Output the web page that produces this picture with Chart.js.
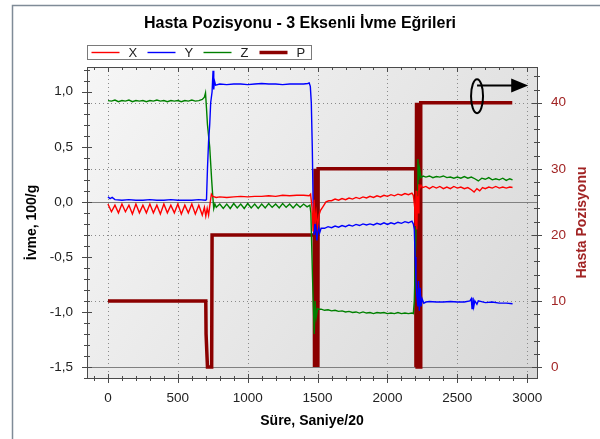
<!DOCTYPE html>
<html>
<head>
<meta charset="utf-8">
<title>Hasta Pozisyonu - 3 Eksenli İvme Eğrileri</title>
<script src="https://cdn.jsdelivr.net/npm/chart.js@4.4.1/dist/chart.umd.min.js"></script>
<style>
  html, body { margin: 0; padding: 0; background: #fff; }
  #wrap { width: 600px; height: 439px; }
</style>
</head>
<body>
<div id="wrap"><canvas id="accChart" width="600" height="439"></canvas></div>
<script>
// Tick labels
const timeTicks = [0, 500, 1000, 1500, 2000, 2500, 3000];
const accTicks = [-1.5, -1.0, -0.5, 0, 0.5, 1.0];
const posTicks = [0, 10, 20, 30, 40];

// X axis acceleration, [time, value]
const seriesX = [
  [0,-0.02],[25,-0.09],[50,-0.03],[75,-0.10],[100,-0.02],[125,-0.09],[150,-0.03],[175,-0.11],
  [200,-0.02],[225,-0.10],[250,-0.03],[275,-0.10],[300,-0.02],[325,-0.10],[350,-0.03],[375,-0.11],
  [400,-0.02],[425,-0.10],[450,-0.03],[475,-0.10],[500,-0.02],[525,-0.11],[550,-0.03],[575,-0.10],
  [600,-0.02],[625,-0.11],[650,-0.03],[675,-0.12],[690,-0.05],[700,-0.13],[710,-0.06],[720,-0.12],
  [730,-0.02],[740,0.07],[750,0.05],[775,0.04],[800,0.045],[850,0.04],[900,0.045],[950,0.05],
  [1000,0.045],[1050,0.05],[1100,0.05],[1150,0.055],[1200,0.05],[1250,0.06],[1300,0.055],[1350,0.06],
  [1400,0.06],[1440,0.055],[1450,0.07],[1460,-0.05],[1468,-0.27],[1475,0.02],[1482,-0.20],[1490,-0.10],
  [1500,-0.22],[1510,-0.12],[1520,-0.08],[1540,-0.04],[1560,0.0],[1580,0.01],[1600,0.01],[1625,0.025],
  [1650,0.015],[1675,0.03],[1700,0.02],[1725,0.035],[1750,0.025],[1775,0.04],[1800,0.03],[1825,0.045],
  [1850,0.035],[1875,0.05],[1900,0.04],[1925,0.055],[1950,0.045],[1975,0.06],[2000,0.05],[2025,0.065],
  [2050,0.055],[2075,0.07],[2100,0.06],[2125,0.075],[2150,0.065],[2175,0.08],[2185,0.06],[2195,-0.05],
  [2200,-0.22],[2205,0.10],[2210,-0.25],[2215,0.05],[2220,-0.10],[2225,0.16],[2230,0.12],[2240,0.15],
  [2250,0.13],[2275,0.14],[2300,0.12],[2325,0.14],[2350,0.125],[2375,0.14],[2400,0.12],[2425,0.135],
  [2450,0.12],[2475,0.14],[2500,0.125],[2525,0.135],[2550,0.12],[2575,0.13],[2600,0.11],[2620,0.09],
  [2640,0.12],[2660,0.10],[2680,0.13],[2700,0.12],[2725,0.135],[2750,0.125],[2775,0.14],[2800,0.125],
  [2825,0.135],[2850,0.125],[2875,0.135],[2895,0.13]
];

// Y axis acceleration
const seriesY = [
  [0,0.045],[15,0.03],[30,0.04],[50,0.02],[100,0.015],[150,0.02],[200,0.015],[250,0.015],
  [300,0.02],[350,0.015],[400,0.015],[450,0.02],[500,0.015],[550,0.015],[600,0.015],[650,0.02],
  [698,0.015],[705,0.02],[712,0.3],[720,0.55],[728,0.7],[735,0.9],[745,1.0],[752,1.19],
  [757,1.02],[762,1.1],[770,1.06],[800,1.07],[850,1.065],[900,1.07],[950,1.07],[1000,1.065],
  [1050,1.07],[1100,1.075],[1150,1.07],[1200,1.07],[1250,1.065],[1300,1.07],[1350,1.07],[1400,1.07],
  [1430,1.075],[1440,1.08],[1448,1.05],[1455,0.9],[1462,0.5],[1468,0.0],[1475,-0.3],[1485,-0.2],
  [1495,-0.35],[1505,-0.22],[1515,-0.28],[1525,-0.24],[1550,-0.24],[1575,-0.225],[1600,-0.235],[1625,-0.22],
  [1650,-0.23],[1675,-0.215],[1700,-0.225],[1725,-0.21],[1750,-0.22],[1775,-0.205],[1800,-0.215],[1825,-0.2],
  [1850,-0.21],[1875,-0.2],[1900,-0.21],[1925,-0.195],[1950,-0.205],[1975,-0.19],[2000,-0.205],[2025,-0.19],
  [2050,-0.2],[2075,-0.185],[2100,-0.195],[2125,-0.18],[2150,-0.19],[2175,-0.175],[2185,-0.2],[2192,-0.25],
  [2198,-0.5],[2204,-0.7],[2210,-0.85],[2218,-0.95],[2222,-0.72],[2228,-0.99],[2234,-0.78],[2240,-0.95],
  [2248,-0.88],[2260,-0.92],[2275,-0.91],[2300,-0.905],[2350,-0.91],[2400,-0.91],[2450,-0.905],[2500,-0.91],
  [2550,-0.91],[2590,-0.9],[2600,-0.88],[2605,-0.97],[2612,-0.87],[2618,-0.95],[2625,-0.9],[2640,-0.93],
  [2650,-0.9],[2700,-0.915],[2750,-0.91],[2800,-0.92],[2850,-0.92],[2895,-0.925]
];

// Z axis acceleration
const seriesZ = [
  [0,0.92],[25,0.915],[50,0.925],[75,0.91],[100,0.92],[125,0.915],[150,0.925],[175,0.91],
  [200,0.92],[225,0.915],[250,0.92],[275,0.91],[300,0.92],[325,0.915],[350,0.925],[375,0.915],
  [400,0.92],[425,0.91],[450,0.92],[475,0.915],[500,0.92],[525,0.91],[550,0.92],[575,0.915],
  [600,0.925],[625,0.915],[650,0.92],[675,0.93],[690,0.95],[698,0.99],[705,0.85],[712,0.7],
  [720,0.6],[728,0.5],[735,0.35],[742,0.2],[750,0.05],[757,-0.06],[765,-0.02],[775,-0.05],
  [800,-0.02],[825,-0.06],[850,-0.02],[875,-0.06],[900,-0.015],[925,-0.055],[950,-0.02],[975,-0.06],
  [1000,-0.015],[1025,-0.055],[1050,-0.02],[1075,-0.06],[1100,-0.02],[1125,-0.055],[1150,-0.015],[1175,-0.05],
  [1200,-0.02],[1225,-0.055],[1250,-0.015],[1275,-0.05],[1300,-0.02],[1325,-0.055],[1350,-0.02],[1375,-0.05],
  [1400,-0.02],[1425,-0.045],[1445,-0.03],[1452,-0.1],[1458,-0.4],[1464,-0.7],[1470,-0.95],[1476,-1.2],
  [1482,-0.9],[1490,-1.05],[1500,-0.97],[1510,-0.975],[1525,-0.975],[1550,-0.985],[1575,-0.98],[1600,-0.99],
  [1625,-0.985],[1650,-0.995],[1675,-0.99],[1700,-1.0],[1725,-0.995],[1750,-1.005],[1775,-1.0],[1800,-1.01],
  [1825,-1.0],[1850,-1.01],[1875,-1.005],[1900,-1.015],[1925,-1.005],[1950,-1.01],[1975,-1.005],[2000,-1.015],
  [2025,-1.01],[2050,-1.015],[2075,-1.005],[2100,-1.015],[2125,-1.01],[2150,-1.015],[2175,-1.01],[2185,-1.015],
  [2192,-0.9],[2198,-0.6],[2205,-0.2],[2212,0.1],[2218,0.39],[2224,0.2],[2230,0.3],[2240,0.22],
  [2255,0.235],[2275,0.225],[2300,0.235],[2325,0.22],[2350,0.23],[2375,0.225],[2400,0.235],[2425,0.22],
  [2450,0.225],[2475,0.215],[2500,0.225],[2525,0.215],[2550,0.23],[2575,0.215],[2600,0.225],[2625,0.21],
  [2650,0.19],[2675,0.215],[2700,0.205],[2725,0.22],[2750,0.2],[2775,0.21],[2800,0.2],[2825,0.215],
  [2850,0.195],[2875,0.21],[2895,0.2]
];

// Patient position (right axis)
const seriesP = [
  [0,10],[700,10],[702,5],[712,0],[742,0],[745,20],[1476,20],[1478,0],
  [1482,30],[1486,0],[1490,30],[1494,0],[1498,30],[1502,0],[1504,30],[2202,30],
  [2204,0],[2208,40],[2212,0],[2216,40],[2220,0],[2224,40],[2228,0],[2232,40],
  [2236,0],[2238,40],[2893,40]
];

// ellipse + arrow note, in data units (time, position)
const noteCenter = [2641, 41];
const noteArrowEnd = [3007, 42.6];

const toPoints = arr => arr.map(p => ({ x: p[0], y: p[1] }));
const fontFamily = "'Liberation Sans', Arial, sans-serif";
const labelRed = '#a12424';

function lineTo(ctx, x1, y1, x2, y2) {
    ctx.beginPath();
    ctx.moveTo(x1, y1);
    ctx.lineTo(x2, y2);
    ctx.stroke();
}

// background, grid, frame, ticks, note and legend
const framePlugin = {
    id: 'framePlugin',
    beforeDraw(chart) {
        const { ctx, chartArea: a } = chart;
        ctx.save();
        ctx.strokeStyle = '#7f8b97';
        ctx.lineWidth = 1.5;
        ctx.strokeRect(12.5, 5.5, chart.width, chart.height);
        const g = ctx.createLinearGradient(a.left, a.top, a.right, a.bottom);
        g.addColorStop(0, '#f6f6f6');
        g.addColorStop(1, '#d8d8d8');
        ctx.fillStyle = g;
        ctx.fillRect(a.left, a.top, a.width, a.height);
        ctx.restore();
    },
    beforeDatasetsDraw(chart) {
        const { ctx, chartArea: a, scales } = chart;
        ctx.save();
        ctx.beginPath();
        ctx.rect(a.left, a.top, a.width, a.height);
        ctx.clip();
        ctx.lineWidth = 1;
        ctx.strokeStyle = '#8a8a8a';
        ctx.setLineDash([1, 3]);
        timeTicks.forEach(t => {
            const px = Math.round(scales.x.getPixelForValue(t)) + 0.5;
            lineTo(ctx, px, a.top, px, a.bottom);
        });
        posTicks.filter(p => p !== 0).forEach(p => {
            const py = Math.round(scales.y2.getPixelForValue(p)) + 0.5;
            lineTo(ctx, a.left, py, a.right, py);
        });
        ctx.setLineDash([]);
        ctx.strokeStyle = '#808080';
        const z1 = Math.round(scales.y.getPixelForValue(0)) + 0.5;
        const z2 = Math.round(scales.y2.getPixelForValue(0)) + 0.5;
        lineTo(ctx, a.left, z1, a.right, z1);
        lineTo(ctx, a.left, z2, a.right, z2);
        ctx.restore();
    },
    afterDatasetsDraw(chart) {
        const { ctx, chartArea: a, scales } = chart;
        ctx.save();
        ctx.strokeStyle = '#4a4a4a';
        ctx.lineWidth = 1;
        ctx.strokeRect(Math.round(a.left) + 0.5, Math.round(a.top) + 0.5,
            Math.round(a.width), Math.round(a.height));

        // x ticks, bottom and top
        for (let t = -100; t <= 3000; t += 100) {
            const px = Math.round(scales.x.getPixelForValue(t)) + 0.5;
            const major = t % 500 === 0;
            lineTo(ctx, px, a.bottom - (major ? 4 : 2), px, a.bottom + (major ? 5 : 3));
            lineTo(ctx, px, a.top, px, a.top + (major ? 5 : 3));
        }
        // left ticks
        for (let i = -16; i <= 12; i++) {
            const py = Math.round(scales.y.getPixelForValue(i / 10)) + 0.5;
            const major = i % 5 === 0;
            lineTo(ctx, a.left - (major ? 5 : 3), py, a.left + (major ? 5 : 3), py);
        }
        // right ticks
        for (let p = 0; p <= 44; p += 2) {
            const py = Math.round(scales.y2.getPixelForValue(p)) + 0.5;
            const major = p % 10 === 0;
            lineTo(ctx, a.right - (major ? 5 : 3), py, a.right + (major ? 5 : 3), py);
        }

        // ellipse with arrow
        const cx = scales.x.getPixelForValue(noteCenter[0]);
        const cy = scales.y2.getPixelForValue(noteCenter[1]);
        const ex = scales.x.getPixelForValue(noteArrowEnd[0]);
        const ey = scales.y2.getPixelForValue(noteArrowEnd[1]);
        ctx.strokeStyle = '#000';
        ctx.fillStyle = '#000';
        ctx.lineWidth = 2;
        ctx.beginPath();
        ctx.ellipse(cx, cy, 6, 17, 0, 0, Math.PI * 2);
        ctx.stroke();
        lineTo(ctx, cx, ey, ex - 14, ey);
        ctx.beginPath();
        ctx.moveTo(ex, ey);
        ctx.lineTo(ex - 17, ey - 7);
        ctx.lineTo(ex - 17, ey + 7);
        ctx.closePath();
        ctx.fill();
        ctx.restore();
    },
    afterDraw(chart) {
        const { ctx, chartArea: a } = chart;
        ctx.save();
        // right axis title, reading upwards
        ctx.translate(582, (a.top + a.bottom) / 2);
        ctx.rotate(-Math.PI / 2);
        ctx.font = 'bold 14px ' + fontFamily;
        ctx.fillStyle = labelRed;
        ctx.textAlign = 'center';
        ctx.textBaseline = 'middle';
        ctx.fillText('Hasta Pozisyonu', 0, 0);
        ctx.restore();

        // legend box
        ctx.save();
        const bx = a.left + 0.5, by = 45.5, bw = 224, bh = 14;
        ctx.fillStyle = '#fff';
        ctx.fillRect(bx, by, bw, bh);
        ctx.strokeStyle = '#7a7a7a';
        ctx.lineWidth = 1;
        ctx.strokeRect(bx, by, bw, bh);
        ctx.font = '13px ' + fontFamily;
        ctx.textBaseline = 'middle';
        ctx.fillStyle = '#222';
        let x = bx + 4;
        chart.data.datasets.slice().sort((d1, d2) => d1.legendIndex - d2.legendIndex).forEach(ds => {
            ctx.strokeStyle = ds.borderColor;
            ctx.lineWidth = ds.borderWidth;
            lineTo(ctx, x, by + bh / 2, x + 28, by + bh / 2);
            ctx.fillStyle = '#222';
            ctx.fillText(ds.label, x + 37, by + bh / 2 + 0.5);
            x += 56;
        });
        ctx.restore();
    }
};

const ctx = document.getElementById('accChart').getContext('2d');
const accChart = new Chart(ctx, {
    type: 'line',
    data: {
        datasets: [
            { label: 'X', data: toPoints(seriesX), borderColor: '#ff0000', borderWidth: 1.4, yAxisID: 'y', order: 1, legendIndex: 0 },
            { label: 'Y', data: toPoints(seriesY), borderColor: '#0000ff', borderWidth: 1.4, yAxisID: 'y', order: 2, legendIndex: 1 },
            { label: 'Z', data: toPoints(seriesZ), borderColor: '#008000', borderWidth: 1.4, yAxisID: 'y', order: 3, legendIndex: 2 },
            { label: 'P', data: toPoints(seriesP), borderColor: '#8b0000', borderWidth: 3.5, yAxisID: 'y2', order: 4, legendIndex: 3 }
        ]
    },
    options: {
        responsive: false,
        animation: false,
        events: [],
        layout: { padding: 0 },
        elements: { point: { radius: 0 }, line: { tension: 0, borderJoinStyle: 'miter' } },
        plugins: {
            legend: { display: false },
            tooltip: { enabled: false },
            title: {
                display: true,
                text: 'Hasta Pozisyonu - 3 Eksenli İvme Eğrileri',
                color: '#000',
                font: { family: fontFamily, size: 16, weight: 'bold' },
                padding: { top: 14, bottom: 33.8 }
            }
        },
        scales: {
            x: {
                type: 'linear',
                min: -150,
                max: 3070,
                afterBuildTicks: s => { s.ticks = timeTicks.map(v => ({ value: v })); },
                afterFit: s => { s.height = 61; },
                ticks: {
                    color: '#222',
                    padding: 12,
                    font: { family: fontFamily, size: 13.5 },
                    maxRotation: 0,
                    callback: v => String(v)
                },
                grid: { display: false, drawTicks: false },
                border: { display: false },
                title: {
                    display: true,
                    text: 'Süre, Saniye/20',
                    color: '#000',
                    font: { family: fontFamily, size: 14, weight: 'bold' },
                    padding: { top: 0, bottom: 9 }
                }
            },
            y: {
                position: 'left',
                min: -1.6,
                max: 1.225,
                afterBuildTicks: s => { s.ticks = accTicks.map(v => ({ value: v })); },
                afterFit: s => { s.width = 87; },
                ticks: {
                    color: '#222',
                    padding: 14,
                    font: { family: fontFamily, size: 13.5 },
                    callback: v => v.toFixed(1).replace('.', ',')
                },
                grid: { display: false, drawTicks: false },
                border: { display: false },
                title: {
                    display: true,
                    text: 'İvme, 100/g',
                    color: '#000',
                    font: { family: fontFamily, size: 14, weight: 'bold' },
                    padding: { top: 23.3, bottom: 0 }
                }
            },
            y2: {
                position: 'right',
                min: -1.6667,
                max: 45.4167,
                afterBuildTicks: s => { s.ticks = posTicks.map(v => ({ value: v })); },
                afterFit: s => { s.width = 63; },
                ticks: { color: labelRed, padding: 14, font: { family: fontFamily, size: 13.5 } },
                grid: { display: false, drawTicks: false },
                border: { display: false }
            }
        }
    },
    plugins: [framePlugin]
});
</script>
</body>
</html>
